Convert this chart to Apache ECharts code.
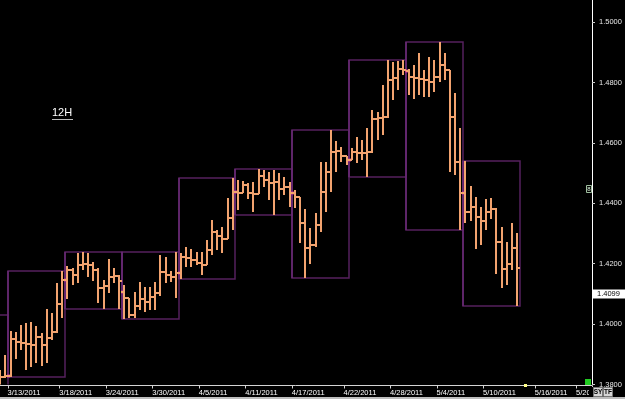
<!DOCTYPE html>
<html><head><meta charset="utf-8">
<script src="https://cdn.jsdelivr.net/npm/echarts@6/dist/echarts.min.js"></script>
<style>html,body{margin:0;padding:0;background:#000;}#c{width:625px;height:399px;}</style>
</head><body><div id="c"></div>
<script>
// ---- data (12H bars, EUR/USD style prices) ----
const opens = [1.3800,1.3825,1.3828,1.3951,1.3941,1.3938,1.3934,1.3931,1.3957,1.3931,1.3954,1.3974,1.4067,
1.4146,1.4179,1.4163,1.4196,1.4200,1.4196,1.4179,1.4120,1.4126,1.4156,1.4159,
1.4106,1.4085,1.4030,1.4060,1.4083,1.4073,1.4090,1.4103,1.4173,1.4163,1.4156,
1.4169,1.4222,1.4220,1.4212,1.4202,1.4196,1.4245,1.4305,1.4292,1.4282,1.4351,
1.4438,1.4434,1.4461,1.4434,1.4432,1.4490,1.4477,1.4467,1.4470,1.4447,1.4454,
1.4434,1.4421,1.4335,1.4252,1.4262,1.4328,1.4437,1.4504,1.4570,1.4572,1.4557,
1.4543,1.4570,1.4568,1.4566,1.4570,1.4679,1.4682,1.4686,1.4808,1.4815,1.4845,
1.4839,1.4818,1.4815,1.4812,1.4808,1.4800,1.4818,1.4858,1.4841,1.4686,1.4537,
1.4435,1.4372,1.4389,1.4354,1.4342,1.4372,1.4380,1.4273,1.4181,1.4198,1.4253];
const highs = [1.3848,1.3898,1.3977,1.3974,1.3997,1.4004,1.4007,1.3994,1.3971,1.4050,1.4037,1.4136,1.4176,
1.4192,1.4186,1.4235,1.4239,1.4235,1.4206,1.4186,1.4146,1.4216,1.4186,1.4163,
1.4129,1.4088,1.4106,1.4139,1.4123,1.4123,1.4139,1.4229,1.4222,1.4176,1.4239,
1.4235,1.4255,1.4249,1.4239,1.4239,1.4278,1.4345,1.4312,1.4322,1.4418,1.4484,
1.4477,1.4474,1.4467,1.4470,1.4514,1.4510,1.4504,1.4510,1.4500,1.4487,1.4470,
1.4444,1.4421,1.4381,1.4318,1.4368,1.4537,1.4537,1.4643,1.4606,1.4586,1.4557,
1.4583,1.4620,1.4610,1.4649,1.4709,1.4702,1.4792,1.4874,1.4868,1.4871,1.4874,
1.4845,1.4858,1.4898,1.4841,1.4884,1.4874,1.4934,1.4898,1.4841,1.4765,1.4649,
1.4541,1.4457,1.4422,1.4389,1.4413,1.4419,1.4385,1.4323,1.4273,1.4334,1.4301];
const lows = [1.3790,1.3822,1.3825,1.3884,1.3914,1.3848,1.3858,1.3871,1.3861,1.3871,1.3947,1.3970,1.4020,
1.4083,1.4129,1.4136,1.4179,1.4156,1.4143,1.4070,1.4050,1.4103,1.4136,1.4050,
1.4017,1.4020,1.4020,1.4047,1.4040,1.4047,1.4047,1.4093,1.4136,1.4139,1.4086,
1.4150,1.4189,1.4189,1.4196,1.4163,1.4196,1.4229,1.4245,1.4235,1.4282,1.4312,
1.4378,1.4434,1.4414,1.4371,1.4430,1.4454,1.4411,1.4361,1.4411,1.4427,1.4388,
1.4384,1.4269,1.4153,1.4199,1.4255,1.4305,1.4371,1.4437,1.4504,1.4537,1.4527,
1.4543,1.4533,1.4543,1.4487,1.4568,1.4610,1.4626,1.4682,1.4742,1.4775,1.4825,
1.4759,1.4745,1.4759,1.4752,1.4752,1.4768,1.4802,1.4808,1.4504,1.4494,1.4312,
1.4336,1.4342,1.4248,1.4262,1.4312,1.4347,1.4166,1.4119,1.4129,1.4179,1.4061];
const closes = [1.3825,1.3828,1.3951,1.3941,1.3938,1.3934,1.3931,1.3957,1.3931,1.3954,1.3974,1.4067,1.4146,
1.4179,1.4163,1.4196,1.4200,1.4196,1.4179,1.4120,1.4126,1.4156,1.4159,1.4143,
1.4085,1.4030,1.4060,1.4083,1.4073,1.4090,1.4103,1.4173,1.4163,1.4156,1.4169,
1.4222,1.4220,1.4212,1.4202,1.4196,1.4245,1.4305,1.4292,1.4282,1.4351,1.4437,
1.4434,1.4461,1.4434,1.4432,1.4490,1.4477,1.4467,1.4470,1.4447,1.4454,1.4434,
1.4421,1.4335,1.4252,1.4262,1.4328,1.4437,1.4504,1.4570,1.4572,1.4557,1.4543,
1.4570,1.4568,1.4566,1.4570,1.4679,1.4682,1.4686,1.4808,1.4815,1.4845,1.4841,
1.4818,1.4815,1.4812,1.4808,1.4800,1.4818,1.4858,1.4841,1.4686,1.4537,1.4434,
1.4372,1.4389,1.4354,1.4342,1.4372,1.4380,1.4273,1.4181,1.4198,1.4253,1.4187];

// weekly boxes (bar index ranges); week 0 begins off-chart
const weekStarts = [-9, 2, 13, 24, 35, 46, 57, 68, 79, 90];
const weekEnds   = [ 1, 12, 23, 34, 45, 56, 67, 78, 89, 100];
const priorWeekHigh = 1.4030;
const priorWeekLow = 1.3760;

// x-axis date ticks (bar slot index -> label)
const tickIndex  = [2, 12, 21, 30, 39, 48, 57, 67, 76, 85, 94, 104, 112];
const tickLabels = ['3/13/2011','3/18/2011','3/24/2011','3/30/2011','4/5/2011','4/11/2011','4/17/2011',
                    '4/22/2011','4/28/2011','5/4/2011','5/10/2011','5/16/2011','5/20/2011'];
const slotCount = 115;

// price axis
const yMin = 1.38, yMax = 1.5073, yStep = 0.02;
const lastPrice = 1.4099;
const periodLabel = '12H';

// ---- build ----
const categories = Array.from({length: slotCount}, (_, i) => String(i));
const barData = opens.map((o, i) => [i, o, closes[i], lows[i], highs[i]]);
const weekData = weekStarts.map((s, k) => {
  const e = weekEnds[k];
  let hi = -Infinity, lo = Infinity;
  for (let i = Math.max(0, s); i <= e; i++) { hi = Math.max(hi, highs[i]); lo = Math.min(lo, lows[i]); }
  if (s < 0) { hi = Math.max(hi, priorWeekHigh); lo = Math.min(lo, priorWeekLow); }
  const op = s >= 0 ? opens[s] : NaN;
  return [s, e, hi, lo, op];
});

const BAR = '#F2A36F';
function renderBar(params, api) {
  const i = api.value(0);
  const o = api.coord([i, api.value(1)]);
  const c = api.coord([i, api.value(2)]);
  const l = api.coord([i, api.value(3)]);
  const h = api.coord([i, api.value(4)]);
  const x = Math.round(o[0]);
  const st = {stroke: BAR, lineWidth: 2};
  return {type: 'group', children: [
    {type: 'line', shape: {x1: x, y1: Math.round(h[1]), x2: x, y2: Math.round(l[1])}, style: st},
    {type: 'line', shape: {x1: x - 3, y1: Math.round(o[1]), x2: x, y2: Math.round(o[1])}, style: st},
    {type: 'line', shape: {x1: x, y1: Math.round(c[1]), x2: x + 3, y2: Math.round(c[1])}, style: st}
  ]};
}
function renderBox(params, api) {
  const s = api.value(0), e = api.value(1), hi = api.value(2), lo = api.value(3), op = api.value(4);
  const w = api.size([1, 0])[0];
  const x0 = api.coord([0, hi])[0];
  const yH = api.coord([0, hi])[1], yL = api.coord([0, lo])[1];
  const left = Math.round(x0 + (s - 0.5) * w), right = Math.round(x0 + (e + 0.5) * w);
  const children = [
    {type: 'rect', shape: {x: left, y: Math.round(yH), width: right - left, height: Math.round(yL) - Math.round(yH)},
     style: {fill: 'none', stroke: '#55215E', lineWidth: 1.5}},
    {type: 'line', shape: {x1: left, y1: Math.round(yH), x2: left, y2: Math.round(yL)},
     style: {stroke: '#6A2A76', lineWidth: 1.5}}
  ];
  if (!isNaN(op)) {
    const yo = Math.round(api.coord([0, op])[1]);
    children.push({type: 'rect', shape: {x: left - 1, y: yo - 1.5, width: 3, height: 3}, style: {fill: '#C8309A'}});
  }
  return {type: 'group', children};
}

const chart = echarts.init(document.getElementById('c'), null, {renderer: 'canvas'});
const FONT = '"Liberation Sans", Arial, sans-serif';
chart.setOption({
  animation: false,
  backgroundColor: '#000',
  grid: {left: -2.34, right: 33, top: 0, bottom: 14.5, containLabel: false, outerBoundsMode: 'none'},
  xAxis: {
    type: 'category', data: categories, boundaryGap: true, offset: 1,
    axisLine: {show: true, lineStyle: {color: '#d4d4d4', width: 1}},
    axisTick: {show: true, length: 3, interval: (i) => tickIndex.includes(i), lineStyle: {color: '#d4d4d4'}},
    axisLabel: {
      show: true, interval: (i) => tickIndex.includes(i),
      formatter: (v, i) => { const k = tickIndex.indexOf(i); return k >= 0 ? tickLabels[k] : ''; },
      color: '#ffffff', fontSize: 7.5, fontFamily: FONT, margin: 3, align: 'left', padding: [0, 0, 0, -3]
    },
    splitLine: {show: false}
  },
  yAxis: {
    type: 'value', position: 'right', min: yMin, max: yMax, interval: yStep, scale: true,
    axisLine: {show: true, lineStyle: {color: '#ffffff', width: 1}},
    axisTick: {show: true, length: 3, lineStyle: {color: '#cccccc'}},
    axisLabel: {show: true, color: '#e6e6e6', fontSize: 7.5, fontFamily: FONT, margin: 7,
      formatter: (v) => v.toFixed(4), showMaxLabel: false},
    splitLine: {show: false}
  },
  series: [
    {type: 'custom', name: 'weeks', data: weekData, renderItem: renderBox, clip: true, z: 1,
     encode: {x: 1, y: [2, 3]}, silent: true},
    {type: 'custom', name: 'bars', data: barData, renderItem: renderBar, clip: true, z: 2,
     encode: {x: 0, y: [1, 2, 3, 4]}, silent: true}
  ]
});

const yTag = chart.convertToPixel({yAxisIndex: 0}, lastPrice);
chart.setOption({
  graphic: [
    {type: 'text', x: 52, y: 107.5, z: 10, style: {text: periodLabel, fill: '#ffffff', font: '11px ' + FONT, textAlign: 'left', textVerticalAlign: 'top'}},
    {type: 'line', z: 10, shape: {x1: 52, y1: 119.5, x2: 73, y2: 119.5}, style: {stroke: '#bbbbbb', lineWidth: 1}},
    {type: 'rect', z: 10, shape: {x: 593, y: Math.round(yTag) - 4.5, width: 32, height: 9}, style: {fill: '#ffffff'}},
    {type: 'text', x: 597, y: Math.round(yTag), z: 11, style: {text: lastPrice.toFixed(4), fill: '#000000', font: '7.5px ' + FONT, textAlign: 'left', textVerticalAlign: 'middle'}},
    {type: 'rect', z: 10, shape: {x: 586.5, y: 185.5, width: 5, height: 7}, style: {fill: '#000', stroke: '#9fbf9f', lineWidth: 1}},
    {type: 'text', x: 589, y: 189, z: 11, style: {text: '8', fill: '#d8f0d8', font: '6px ' + FONT, textAlign: 'center', textVerticalAlign: 'middle'}},
    {type: 'rect', z: 10, shape: {x: 585, y: 379, width: 6, height: 6}, style: {fill: '#22CC22'}},
    {type: 'rect', z: 10, shape: {x: 524, y: 384, width: 3, height: 3}, style: {fill: '#FFFF88'}},
    {type: 'rect', z: 10, shape: {x: 589, y: 387, width: 36, height: 10}, style: {fill: '#000'}},
    {type: 'rect', z: 11, shape: {x: 593.5, y: 387.5, width: 9, height: 9}, style: {fill: '#d6d6d6', stroke: '#777', lineWidth: 1}},
    {type: 'text', x: 598, y: 392, z: 12, style: {text: 'SY', fill: '#000', font: 'bold 6.5px ' + FONT, textAlign: 'center', textVerticalAlign: 'middle'}},
    {type: 'rect', z: 11, shape: {x: 603.5, y: 387.5, width: 9, height: 9}, style: {fill: '#d6d6d6', stroke: '#777', lineWidth: 1}},
    {type: 'text', x: 608, y: 392, z: 12, style: {text: 'TF', fill: '#000', font: 'bold 6.5px ' + FONT, textAlign: 'center', textVerticalAlign: 'middle'}},
    {type: 'rect', z: 10, shape: {x: 0, y: 397, width: 625, height: 2}, style: {fill: '#bdbdbd'}}
  ]
});
</script></body></html>
